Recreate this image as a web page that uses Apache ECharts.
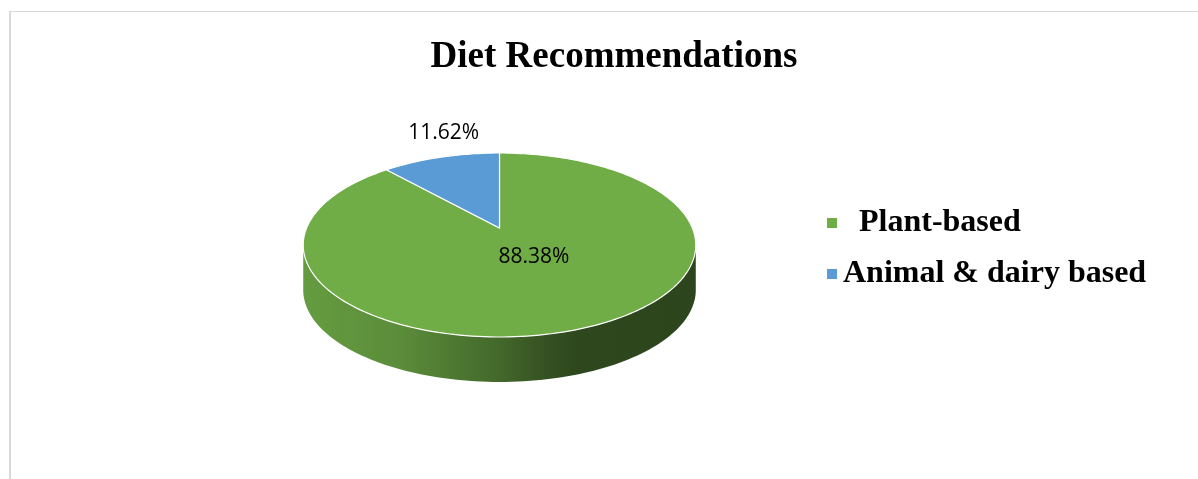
<!DOCTYPE html>
<html>
<head>
<meta charset="utf-8">
<style>
  html, body { margin: 0; padding: 0; background: #fff; }
  #chart { width: 1198px; height: 479px; }
</style>
<script src="https://cdn.jsdelivr.net/npm/echarts@6/dist/echarts.min.js"></script>
</head>
<body>
<div id="chart"></div>
<script>
// Diet recommendation shares (percent)
const categories = ['  Plant-based', 'Animal & dairy based'];
const values = [88.38, 11.62];
const sliceColors = ['#70ad47', '#5b9bd5'];
const chartTitle = 'Diet Recommendations';

// Tilted-disc geometry (screen pixels): centre, half-axes, perspective and thickness
const PIE = { cx: 499.5, cy: 228, a: 192.9, b: 88.86, p: 0.1848, depth: 45 };

const total = values.reduce((s, v) => s + v, 0);

// Project a point of the unit disc (u right, v away from viewer) to the screen
function project(u, v) {
  const w = 1 + PIE.p * v;
  return [PIE.cx + PIE.a * u / w, PIE.cy - PIE.b * v / w];
}
function rim(deg, r) {
  const t = deg * Math.PI / 180;
  return project((r || 1) * Math.cos(t), (r || 1) * Math.sin(t));
}

// Slices run clockwise from 12 o'clock; returns [endDeg, startDeg] in math angles
function sliceRange(i) {
  let before = 0;
  for (let k = 0; k < i; k++) before += values[k];
  const start = 90 - 360 * before / total;
  const end = 90 - 360 * (before + values[i]) / total;
  return [end, start];
}

function shade(hex, f) {
  const n = parseInt(hex.slice(1), 16);
  const r = Math.round(((n >> 16) & 255) * f);
  const g = Math.round(((n >> 8) & 255) * f);
  const b = Math.round((n & 255) * f);
  return 'rgb(' + r + ',' + g + ',' + b + ')';
}

// Visible front wall lies between the two silhouette points of the rim
const tangent = Math.asin(PIE.p) * 180 / Math.PI;
const wallFrom = 180 + tangent, wallTo = 360 - tangent;

function renderSlice(params, api) {
  const i = params.seriesIndex;
  const color = sliceColors[i];
  const [d0, d1] = sliceRange(i);
  const children = [];

  // top face
  const face = [[PIE.cx, PIE.cy]];
  const steps = Math.max(4, Math.ceil((d1 - d0) / 1.5));
  for (let s = 0; s <= steps; s++) face.push(rim(d0 + (d1 - d0) * s / steps));
  children.push({
    type: 'polygon', z2: 10,
    shape: { points: face },
    style: { fill: color, stroke: '#ffffff', lineWidth: 1.2, lineJoin: 'round' }
  });

  // front wall pieces belonging to this slice
  const gradient = {
    type: 'linear', global: true,
    x: PIE.cx - PIE.a * 1.02, y: 0, x2: PIE.cx + PIE.a * 1.02, y2: 0,
    colorStops: [
      { offset: 0, color: shade(color, 0.90) },
      { offset: 0.25, color: shade(color, 0.81) },
      { offset: 0.38, color: shade(color, 0.70) },
      { offset: 0.5, color: shade(color, 0.60) },
      { offset: 0.62, color: shade(color, 0.47) },
      { offset: 0.7, color: shade(color, 0.41) },
      { offset: 1, color: shade(color, 0.40) }
    ]
  };
  for (let k = -1; k <= 1; k++) {
    const lo = Math.max(d0, wallFrom + 360 * k);
    const hi = Math.min(d1, wallTo + 360 * k);
    if (hi <= lo) continue;
    const n = Math.max(4, Math.ceil((hi - lo) / 1.5));
    const topEdge = [], bottomEdge = [];
    for (let s = 0; s <= n; s++) {
      const pt = rim(lo + (hi - lo) * s / n);
      topEdge.push(pt);
      bottomEdge.push([pt[0], pt[1] + PIE.depth]);
    }
    children.push({
      type: 'polygon', z2: 0,
      shape: { points: topEdge.concat(bottomEdge.reverse()) },
      style: { fill: gradient }
    });
  }

  // percentage label
  const pct = (values[i] / total * 100).toFixed(2) + '%';
  const mid = (d0 + d1) / 2;
  let pos;
  if (values[i] / total > 0.5) {
    const q = rim(mid, 0.36);
    pos = [q[0] + 8, q[1] - 3];
  } else {
    const q = rim(mid, 1);
    pos = [q[0] + 3, q[1] - 24];
  }
  children.push({
    type: 'text', z2: 20,
    x: pos[0], y: pos[1],
    style: {
      text: pct, fill: '#000000',
      font: '21px "Open Sans"',
      align: 'center', verticalAlign: 'middle'
    }
  });

  return { type: 'group', children: children };
}

const chart = echarts.init(document.getElementById('chart'), null, { renderer: 'canvas' });

chart.setOption({
  animation: false,
  backgroundColor: '#ffffff',
  title: {
    text: chartTitle,
    left: 609, top: 34, textAlign: 'center',
    textStyle: { fontFamily: 'Liberation Serif', fontWeight: 'bold', fontSize: 37, color: '#000000' }
  },
  legend: {
    orient: 'vertical',
    left: 822, top: 198,
    icon: 'rect', itemWidth: 10, itemHeight: 10, itemGap: 11,
    selectedMode: false,
    data: categories,
    textStyle: {
      fontFamily: 'Liberation Serif', fontWeight: 'bold', fontSize: 32,
      color: '#000000', lineHeight: 36, padding: [4, 0, 0, 1]
    }
  },
  graphic: [
    { type: 'line', shape: { x1: 10, y1: 11.5, x2: 1198, y2: 11.5 }, style: { stroke: '#d9d9d9', lineWidth: 1 } },
    { type: 'line', shape: { x1: 10, y1: 11, x2: 10, y2: 479 }, style: { stroke: '#d9d9d9', lineWidth: 2 } }
  ],
  series: categories.map((name, i) => ({
    type: 'custom',
    name: name,
    coordinateSystem: 'none',
    itemStyle: { color: sliceColors[i] },
    data: [values[i]],
    renderItem: renderSlice,
    silent: true
  }))
});
</script>
</body>
</html>
